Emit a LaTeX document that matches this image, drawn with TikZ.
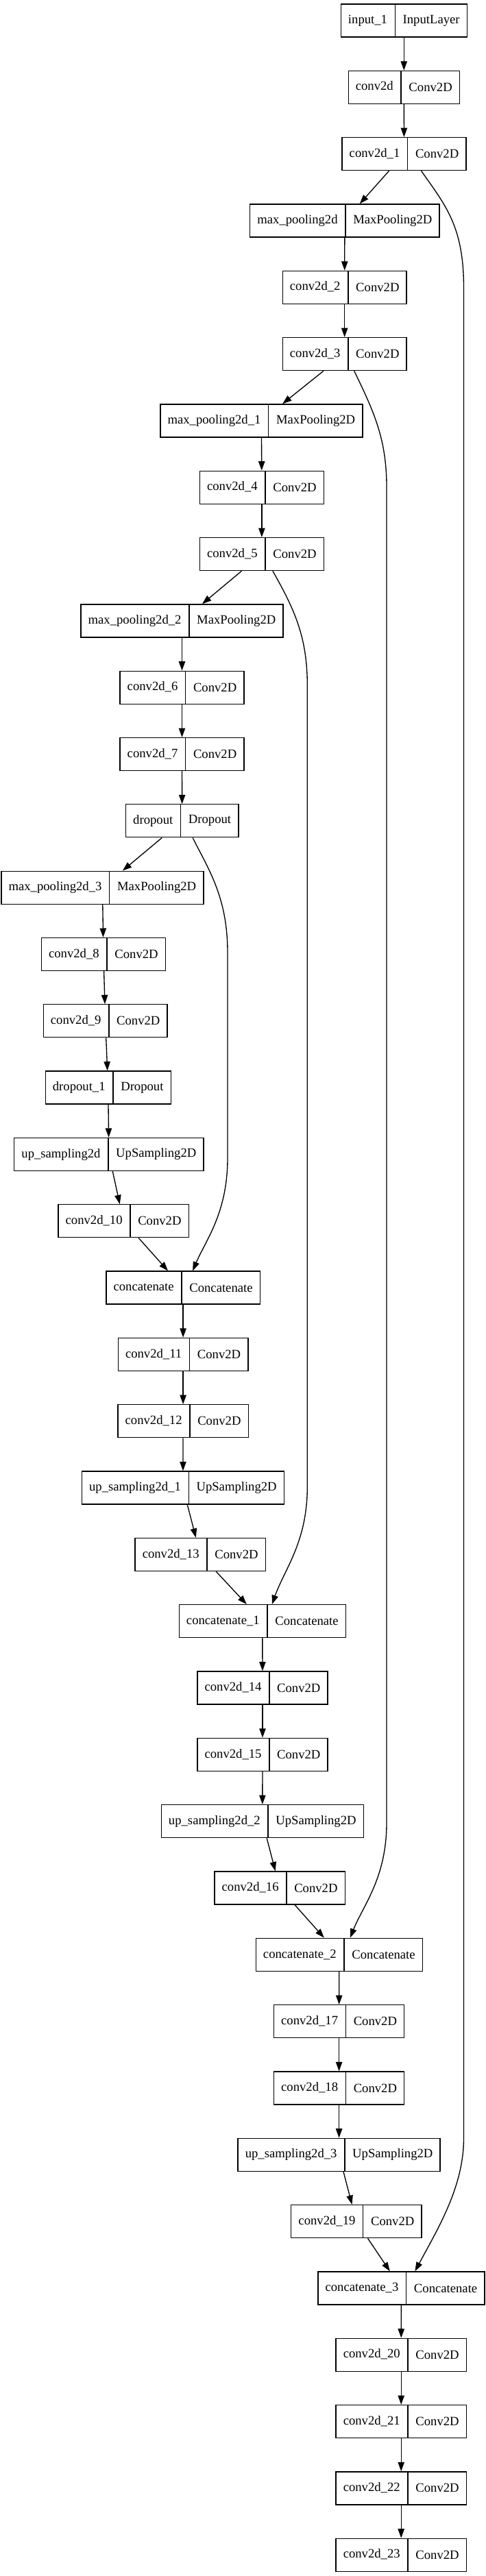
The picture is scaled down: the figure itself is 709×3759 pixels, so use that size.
\documentclass[tikz,border=0pt]{standalone}
\usepackage{fontspec}
\setmainfont{Liberation Serif}
\usetikzlibrary{arrows.meta, calc, shapes.multipart}

\begin{document}
\begin{tikzpicture}[x=0.75pt, y=-0.75pt,
        layer/.style={rectangle split, rectangle split horizontal, rectangle split parts=2, draw, line width=1pt,
            inner xsep=8pt, inner ysep=11.5pt, text height=10pt, text depth=3pt, font=\fontsize{14}{16}\selectfont},
        flow/.style={-{Triangle[length=10pt, width=7pt]}, line width=1pt}]

    \useasboundingbox (0,0) rectangle (709,3759);

    % encoder
    \node[layer] (in1) at (589.3, 30) {input\_1\nodepart{two}InputLayer};
    \node[layer] (c0) at (589.3, 127.3) {conv2d\nodepart{two}Conv2D};
    \node[layer] (c1) at (589.5, 224.6) {conv2d\_1\nodepart{two}Conv2D};
    \node[layer] (mp0) at (502.9, 322.0) {max\_pooling2d\nodepart{two}MaxPooling2D};
    \node[layer] (c2) at (502.7, 419.3) {conv2d\_2\nodepart{two}Conv2D};
    \node[layer] (c3) at (502.7, 516.6) {conv2d\_3\nodepart{two}Conv2D};
    \node[layer] (mp1) at (381.4, 613.9) {max\_pooling2d\_1\nodepart{two}MaxPooling2D};
    \node[layer] (c4) at (381.9, 711.2) {conv2d\_4\nodepart{two}Conv2D};
    \node[layer] (c5) at (381.9, 808.6) {conv2d\_5\nodepart{two}Conv2D};
    \node[layer] (mp2) at (265.5, 905.9) {max\_pooling2d\_2\nodepart{two}MaxPooling2D};
    \node[layer] (c6) at (265.5, 1003.2) {conv2d\_6\nodepart{two}Conv2D};
    \node[layer] (c7) at (265.5, 1100.5) {conv2d\_7\nodepart{two}Conv2D};
    \node[layer] (drop) at (265.7, 1197.8) {dropout\nodepart{two}Dropout};
    \node[layer] (mp3) at (149.4, 1295.2) {max\_pooling2d\_3\nodepart{two}MaxPooling2D};
    \node[layer] (c8) at (150.9, 1392.5) {conv2d\_8\nodepart{two}Conv2D};
    \node[layer] (c9) at (153.7, 1489.8) {conv2d\_9\nodepart{two}Conv2D};
    \node[layer] (drop1) at (157.7, 1587.1) {dropout\_1\nodepart{two}Dropout};

    % decoder
    \node[layer] (up0) at (158.9, 1684.4) {up\_sampling2d\nodepart{two}UpSampling2D};
    \node[layer] (c10) at (180.1, 1781.8) {conv2d\_10\nodepart{two}Conv2D};
    \node[layer] (cat) at (267.1, 1879.1) {concatenate\nodepart{two}Concatenate};
    \node[layer] (c11) at (267.1, 1976.4) {conv2d\_11\nodepart{two}Conv2D};
    \node[layer] (c12) at (267.1, 2073.7) {conv2d\_12\nodepart{two}Conv2D};
    \node[layer] (up1) at (266.9, 2171.0) {up\_sampling2d\_1\nodepart{two}UpSampling2D};
    \node[layer] (c13) at (292.2, 2268.4) {conv2d\_13\nodepart{two}Conv2D};
    \node[layer] (cat1) at (382.8, 2365.7) {concatenate\_1\nodepart{two}Concatenate};
    \node[layer] (c14) at (383.0, 2463.0) {conv2d\_14\nodepart{two}Conv2D};
    \node[layer] (c15) at (383.0, 2560.3) {conv2d\_15\nodepart{two}Conv2D};
    \node[layer] (up2) at (382.8, 2657.6) {up\_sampling2d\_2\nodepart{two}UpSampling2D};
    \node[layer] (c16) at (408.1, 2755.0) {conv2d\_16\nodepart{two}Conv2D};
    \node[layer] (cat2) at (494.8, 2852.3) {concatenate\_2\nodepart{two}Concatenate};
    \node[layer] (c17) at (494.6, 2949.6) {conv2d\_17\nodepart{two}Conv2D};
    \node[layer] (c18) at (494.6, 3046.9) {conv2d\_18\nodepart{two}Conv2D};
    \node[layer] (up3) at (494.6, 3144.2) {up\_sampling2d\_3\nodepart{two}UpSampling2D};
    \node[layer] (c19) at (519.9, 3241.6) {conv2d\_19\nodepart{two}Conv2D};
    \node[layer] (cat3) at (585.4, 3338.9) {concatenate\_3\nodepart{two}Concatenate};
    \node[layer] (c20) at (585.2, 3436.2) {conv2d\_20\nodepart{two}Conv2D};
    \node[layer] (c21) at (585.2, 3533.5) {conv2d\_21\nodepart{two}Conv2D};
    \node[layer] (c22) at (585.2, 3630.8) {conv2d\_22\nodepart{two}Conv2D};
    \node[layer] (c23) at (585.2, 3728.2) {conv2d\_23\nodepart{two}Conv2D};

    % main path
    \draw[flow] (in1) -- (c0);
    \draw[flow] (c0) -- (c1);
    \draw[flow] (c1) -- (mp0);
    \draw[flow] (mp0) -- (c2);
    \draw[flow] (c2) -- (c3);
    \draw[flow] (c3) -- (mp1);
    \draw[flow] (mp1) -- (c4);
    \draw[flow] (c4) -- (c5);
    \draw[flow] (c5) -- (mp2);
    \draw[flow] (mp2) -- (c6);
    \draw[flow] (c6) -- (c7);
    \draw[flow] (c7) -- (drop);
    \draw[flow] (drop) -- (mp3);
    \draw[flow] (mp3) -- (c8);
    \draw[flow] (c8) -- (c9);
    \draw[flow] (c9) -- (drop1);
    \draw[flow] (drop1) -- (up0);
    \draw[flow] (up0) -- (c10);
    \draw[flow] (c10) -- (cat);
    \draw[flow] (cat) -- (c11);
    \draw[flow] (c11) -- (c12);
    \draw[flow] (c12) -- (up1);
    \draw[flow] (up1) -- (c13);
    \draw[flow] (c13) -- (cat1);
    \draw[flow] (cat1) -- (c14);
    \draw[flow] (c14) -- (c15);
    \draw[flow] (c15) -- (up2);
    \draw[flow] (up2) -- (c16);
    \draw[flow] (c16) -- (cat2);
    \draw[flow] (cat2) -- (c17);
    \draw[flow] (c17) -- (c18);
    \draw[flow] (c18) -- (up3);
    \draw[flow] (up3) -- (c19);
    \draw[flow] (c19) -- (cat3);
    \draw[flow] (cat3) -- (c20);
    \draw[flow] (c20) -- (c21);
    \draw[flow] (c21) -- (c22);
    \draw[flow] (c22) -- (c23);

    % skip connections
    \draw[flow] ($(c1.south)+(25,0)$) .. controls (650,300) and (676.5,330) .. (676.5,420)
        -- (676.5,3120) .. controls (676.5,3190) and (640,3250) .. ($(cat3.north)+(20,0)$);
    \draw[flow] ($(c3.south)+(14,0)$) .. controls (545,600) and (564,640) .. (564,710)
        -- (564,2660) .. controls (564,2740) and (530,2780) .. ($(cat2.north)+(16,0)$);
    \draw[flow] ($(c5.south)+(16,0)$) .. controls (430,890) and (448.3,930) .. (448.3,1000)
        -- (448.3,2170) .. controls (448.3,2250) and (415,2290) .. ($(cat1.north)+(14,0)$);
    \draw[flow] ($(drop.south)+(15.4,0)$) .. controls (305,1270) and (332,1310) .. (332,1390)
        -- (332,1690) .. controls (332,1770) and (300,1810) .. ($(cat.north)+(14,0)$);
\end{tikzpicture}
\end{document}
